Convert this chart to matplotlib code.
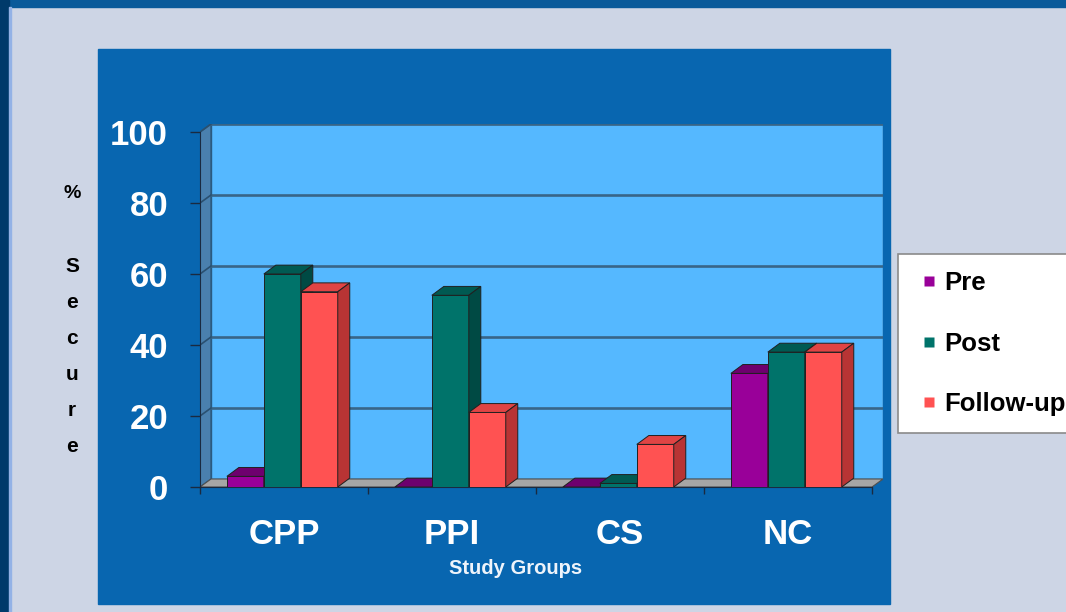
import matplotlib.pyplot as plt
from matplotlib.patches import Polygon, Rectangle
from matplotlib.lines import Line2D
import numpy as np

plt.rcParams['font.family'] = ['Liberation Sans', 'DejaVu Sans']

groups = ["CPP", "PPI", "CS", "NC"]
series = ["Pre", "Post", "Follow-up"]
pre = [3, 0, 0, 32]
post = [60, 54, 1, 38]
follow_up = [55, 21, 12, 38]
yticks = [0, 20, 40, 60, 80, 100]

# front, top, side colours for each series
front_colors = ["#990099", "#00736a", "#ff5252"]
top_colors = ["#6e006e", "#005a52", "#e04444"]
side_colors = ["#5c005c", "#004a44", "#b83434"]

W, H = 1066, 612
fig = plt.figure(figsize=(W / 100, H / 100), dpi=100)
fig.patch.set_facecolor("#cdd5e5")

def fx(px):
    return px / W

def fy(py):
    return 1 - py / H

# page decoration: dark frame top/left, blue chart area
deco = [
    Rectangle((0, fy(7)), 1, 7 / H, color="#0a5a9a"),
    Rectangle((0, 0), 9 / W, 1, color="#003a6a"),
    Rectangle((9 / W, 0), 2 / W, fy(7), color="#93b2e6"),
    Rectangle((fx(98), fy(604)), (890 - 98) / W, (604 - 49) / H, color="#0866b0"),
]
for p in deco:
    p.set_transform(fig.transFigure)
    p.set_zorder(-10)
    fig.patches.append(p)

# depth of the walls and bars, in data units
WX, WY = 11 / 168, 8 / 3.55
BX, BY = 12 / 168, 2.5

ax = fig.add_axes([fx(200), fy(487), (883 - 200) / W, (487 - 124) / H])
ax.set_zorder(1)
ax.set_facecolor("none")
ax.set_xlim(0, len(groups) + WX)
ax.set_ylim(0, 100 + WY)

n = len(groups)
# back wall, side wall, floor
ax.add_patch(Polygon([(WX, WY), (n + WX, WY), (n + WX, 100 + WY), (WX, 100 + WY)],
                     closed=True, facecolor="#55b8ff", edgecolor="#2a5a80", lw=1, zorder=1))
ax.add_patch(Polygon([(0, 0), (WX, WY), (WX, 100 + WY), (0, 100)],
                     closed=True, facecolor="#4a80ae", edgecolor="#2a5a80", lw=1, zorder=1))
ax.add_patch(Polygon([(0, 0), (n, 0), (n + WX, WY), (WX, WY)],
                     closed=True, facecolor="#a6a6a6", edgecolor="#505050", lw=0.8, zorder=2))
for v in yticks[1:]:
    ax.plot([WX, n + WX], [v + WY, v + WY], color="#386588", lw=1.9, zorder=1.5)
    ax.plot([0, WX], [v, v + WY], color="#2a5070", lw=1.2, zorder=1.5)

bw = 0.22
x = np.arange(n) + 0.49
for j, vals in enumerate([pre, post, follow_up]):
    z = 3 + j
    bars = ax.bar(x + (j - 1) * bw, vals, width=bw, color=front_colors[j],
                  edgecolor="#202020", lw=0.7, zorder=z)
    for r in bars:
        x0, w, h = r.get_x(), r.get_width(), r.get_height()
        ax.add_patch(Polygon([(x0, h), (x0 + w, h), (x0 + w + BX, h + BY), (x0 + BX, h + BY)],
                             closed=True, facecolor=top_colors[j], edgecolor="#202020",
                             lw=0.7, zorder=z))
        ax.add_patch(Polygon([(x0 + w, 0), (x0 + w + BX, BY), (x0 + w + BX, h + BY), (x0 + w, h)],
                             closed=True, facecolor=side_colors[j], edgecolor="#202020",
                             lw=0.7, zorder=z))

for s in ["top", "right"]:
    ax.spines[s].set_visible(False)
ax.spines["left"].set_bounds(0, 100)
ax.spines["bottom"].set_bounds(0, n)
ax.spines["left"].set_color("#1a2a40")
ax.spines["bottom"].set_color("#1a2a40")

ax.set_yticks(yticks)
ax.set_yticklabels([str(v) for v in yticks])
ax.tick_params(axis="y", length=7, width=1, color="#1a2a40", pad=16,
               labelcolor="white", labelsize=25)
for t in ax.get_yticklabels():
    t.set_fontweight("bold")

ax.set_xticks(np.arange(n + 1))
ax.set_xticklabels([])
ax.set_xticks(np.arange(n) + 0.5, minor=True)
ax.set_xticklabels(groups, minor=True)
ax.tick_params(axis="x", which="major", length=5, width=1, color="#1a2a40")
ax.tick_params(axis="x", which="minor", length=0, pad=22, labelcolor="white", labelsize=25)
for t in ax.get_xticklabels(minor=True):
    t.set_fontweight("bold")

fig.text(fx(516), fy(569), "Study Groups", color="#eef4fb", fontsize=14.5,
         fontweight="bold", ha="center", va="center")

# stacked y label
fig.text(fx(72), fy(193), "%", fontsize=14, fontweight="bold", ha="center", va="center")
for k, ch in enumerate("Secure"):
    fig.text(fx(72), fy(267 + k * 36), ch, fontsize=15, fontweight="bold",
             ha="center", va="center")

handles = [Line2D([], [], linestyle="none", marker="s", markersize=7.5,
                  markerfacecolor=c, markeredgecolor="none") for c in front_colors]
leg = fig.legend(handles, series, loc="lower left", bbox_to_anchor=(fx(898), fy(433)),
                 frameon=True, fancybox=False, framealpha=1, edgecolor="#8a8a8a",
                 prop={"weight": "bold", "size": 18.5}, handlelength=1.1,
                 handletextpad=0.05, labelspacing=1.42, borderpad=0.66, borderaxespad=0)
leg.get_frame().set_linewidth(1.2)

fig.savefig("out.png", dpi=100, facecolor=fig.get_facecolor())
